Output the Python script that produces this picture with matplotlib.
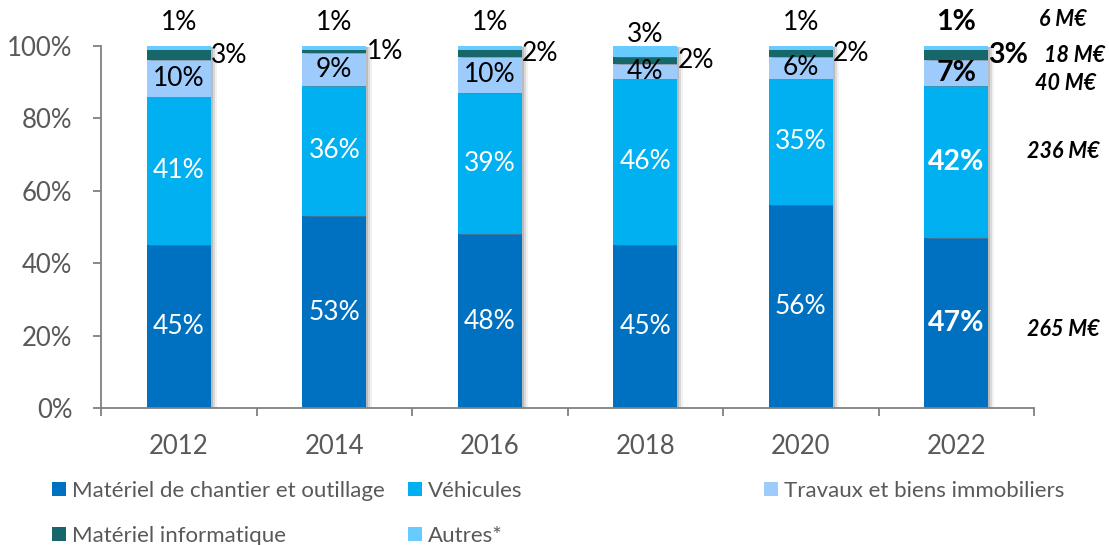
import numpy as np
import matplotlib
matplotlib.use("Agg")
import matplotlib.pyplot as plt
from matplotlib import patheffects as pe
from matplotlib.patches import Patch

plt.rcParams["font.family"] = ["Lato", "DejaVu Sans"]

# Répartition des acquisitions par catégorie (en % du total)
years = ["2012", "2014", "2016", "2018", "2020", "2022"]
chantier = [45, 53, 48, 45, 56, 47]
vehicules = [41, 36, 39, 46, 35, 42]
travaux = [10, 9, 10, 4, 6, 7]
informatique = [3, 1, 2, 2, 2, 3]
autres = [1, 1, 1, 3, 1, 1]

# Montants 2022 par catégorie (M€), du bas vers le haut
montants_2022 = [265, 236, 40, 18, 6]

series_names = ["Matériel de chantier et outillage", "Véhicules",
                "Travaux et biens immobiliers", "Matériel informatique", "Autres*"]
colors = ["#0070C0", "#00B0F0", "#9DCBFB", "#17676A", "#66CCFF"]

GRAY = "#595959"
AXIS = "#808080"
W, H = 1109, 545

fig = plt.figure(figsize=(W / 100, H / 100), dpi=100)
ax = fig.add_axes([101 / W, (H - 408) / H, 933 / W, 362 / H])

x = np.arange(len(years))
bar_w = 0.41
shadow = [
    pe.SimplePatchShadow(offset=(1.5, -0.5), shadow_rgbFace="#7a7a7a", alpha=0.30),
    pe.SimplePatchShadow(offset=(3.0, -0.5), shadow_rgbFace="#7a7a7a", alpha=0.20),
    pe.SimplePatchShadow(offset=(4.5, -0.5), shadow_rgbFace="#7a7a7a", alpha=0.10),
    pe.Normal(),
]

all_series = [chantier, vehicules, travaux, informatique, autres]
bottom = np.zeros(len(years))
centers = []
for vals, col in zip(all_series, colors):
    vals = np.asarray(vals, dtype=float)
    ax.bar(x, vals, width=bar_w, bottom=bottom, color=col, zorder=2,
           path_effects=shadow)
    centers.append(bottom + vals / 2)
    bottom = bottom + vals

# Étiquettes de valeurs
autres_offset = [6.5, 6.5, 6.5, 3.2, 6.5, 6.5]
for i in range(len(years)):
    last = i == len(years) - 1
    fw = "bold" if last else "normal"
    fs = 20.5 if last else 19
    ax.text(x[i], centers[0][i], f"{chantier[i]}%", color="white", ha="center",
            va="center", fontsize=fs, fontweight=fw, zorder=3)
    ax.text(x[i], centers[1][i], f"{vehicules[i]}%", color="white", ha="center",
            va="center", fontsize=fs, fontweight=fw, zorder=3)
    ax.text(x[i], centers[2][i], f"{travaux[i]}%", color="black", ha="center",
            va="center", fontsize=fs, fontweight=fw, zorder=3)
    ax.text(x[i] + bar_w / 2 + 0.002, centers[3][i], f"{informatique[i]}%",
            color="black", ha="left", va="center", fontsize=fs, fontweight=fw,
            zorder=3)
    ax.text(x[i], bottom[i] + autres_offset[i], f"{autres[i]}%", color="black",
            ha="center", va="center", fontsize=fs, fontweight=fw, zorder=3,
            clip_on=False)

# Axes
ax.set_xlim(-0.5, len(years) - 0.5)
ax.set_ylim(0, 100)
for s in ["top", "right"]:
    ax.spines[s].set_visible(False)
for s in ["left", "bottom"]:
    ax.spines[s].set_color(AXIS)
    ax.spines[s].set_linewidth(1.3)

ax.set_yticks(np.arange(0, 101, 20))
ax.set_yticklabels([f"{v}%" for v in range(0, 101, 20)])
ax.tick_params(axis="y", direction="out", length=5.5, width=1.3, color=AXIS,
               labelcolor=GRAY, labelsize=18.5, pad=15)
ax.set_xticks(x)
ax.set_xticklabels(years)
ax.tick_params(axis="x", which="major", length=0, labelcolor=GRAY,
               labelsize=18.5, pad=19)
ax.set_xticks(np.arange(-0.5, len(years), 1.0), minor=True)
ax.tick_params(axis="x", which="minor", direction="out", length=5.5, width=1.3,
               color=AXIS)

# Montants 2022 à droite
amount_pos = [(1063, 330), (1063, 152), (1066, 83), (1075, 56), (1063, 20)]
for v, (px, py) in zip(montants_2022, amount_pos):
    fig.text(px / W, 1 - py / H, f"{v} M€", ha="center", va="center",
             fontsize=15.5, fontweight="bold", style="italic", color="black")

# Légende
legend_pos = [(52, 491), (408, 491), (764, 491), (52, 536), (408, 536)]
for name, col, (px, py) in zip(series_names, colors, legend_pos):
    leg = fig.legend(handles=[Patch(facecolor=col, edgecolor="none", label=name)],
                     loc="center left", bbox_to_anchor=(px / W, 1 - py / H),
                     frameon=False, fontsize=16, handlelength=0.63,
                     handleheight=0.63, handletextpad=0.27, borderpad=0,
                     borderaxespad=0)
    for t in leg.get_texts():
        t.set_color(GRAY)

fig.savefig("out.png", dpi=100)
